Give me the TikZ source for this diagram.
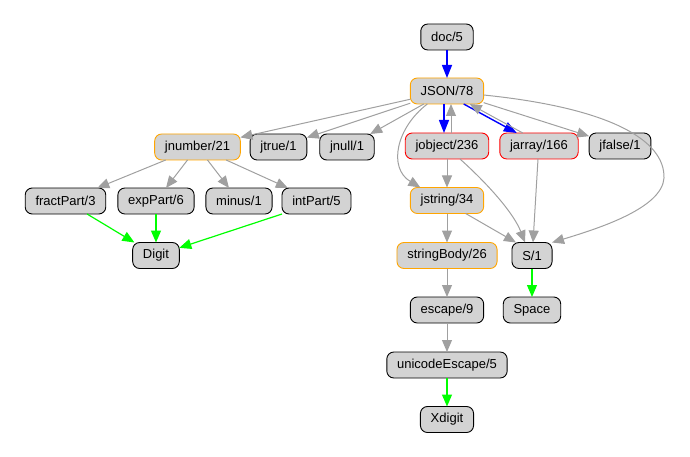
\documentclass[tikz,border=0pt]{standalone}
\usepackage{fontspec}
\setmainfont{Liberation Sans}
\usetikzlibrary{arrows.meta,calc}
\definecolor{nfill}{HTML}{D3D3D3}
\definecolor{egray}{HTML}{A0A0A0}
\definecolor{gorange}{HTML}{FFA500}
\definecolor{gblue}{HTML}{0000FF}
\definecolor{ggreen}{HTML}{00FF00}
\definecolor{gred}{HTML}{FF0000}
\begin{document}
\begin{tikzpicture}[x=1pt,y=-1pt,
  nd/.style={draw=black,fill=nfill,rounded corners=7pt,line width=0.9pt,
    minimum height=26pt,inner xsep=10.3pt,inner ysep=0pt,outer sep=0pt,
    font=\fontsize{13}{15}\selectfont},
  ornd/.style={nd,draw=gorange},
  rdnd/.style={nd,draw=gred},
  ge/.style={draw=egray,line width=1pt,-{Triangle[length=12pt,width=10pt]}},
  be/.style={draw=gblue,line width=1.4pt,-{Triangle[length=13pt,width=10pt]}},
  gre/.style={draw=ggreen,line width=1.2pt,-{Triangle[length=12pt,width=10pt]}}]
\useasboundingbox (0,0) rectangle (690,457);
\node[nd] (doc) at (447,37) {doc/5};
\node[ornd] (json) at (447,91) {JSON/78};
\node[ornd] (jnumber) at (197.5,147) {jnumber/21};
\node[nd] (jtrue) at (278.5,147) {jtrue/1};
\node[nd] (jnull) at (347,147) {jnull/1};
\node[rdnd] (jobject) at (447,146) {jobject/236};
\node[rdnd] (jarray) at (539,146) {jarray/166};
\node[nd] (jfalse) at (620,146) {jfalse/1};
\node[nd] (fract) at (65.5,201) {fractPart/3};
\node[nd] (exp) at (156,201) {expPart/6};
\node[nd] (minus) at (239,201) {minus/1};
\node[nd] (int) at (316.5,201) {intPart/5};
\node[nd] (digit) at (156,255.5) {Digit};
\node[ornd] (jstring) at (447,200.5) {jstring/34};
\node[nd] (s) at (532,255.5) {S/1};
\node[ornd] (body) at (447,255.5) {stringBody/26};
\node[nd] (space) at (532,310) {Space};
\node[nd] (escape) at (447,310) {escape/9};
\node[nd] (uni) at (447,365) {unicodeEscape/5};
\node[nd] (xdigit) at (447,419.5) {Xdigit};
% edges
\draw[be] (doc) -- (json);
\draw[be] ($(json.south)+(-3,0)$) -- ($(jobject.north)+(-3,0)$);
\draw[ge] ($(jobject.north)+(4,0)$) -- ($(json.south)+(4,0)$);
\draw[be] ($(json.south east)+(-20,0)$) -- ($(jarray.north west)+(17,0)$);
\draw[ge] ($(jarray.north west)+(23,0)$) -- ($(json.south east)+(-14,0)$);
\draw[ge] (json) -- (jnumber);
\draw[ge] (json) -- (jtrue);
\draw[ge] (json) -- (jnull);
\draw[ge] (json) -- (jfalse);
\draw[ge] ($(json.south west)+(17,0)$) .. controls (396,128) and (388,168) .. ($(jstring.north west)+(10,0)$);
\draw[ge] ($(json.east)+(0,4)$) .. controls (610,108) and (665,140) .. (664,178) .. controls (662,208) and (600,228) .. (s.north east);
\draw[ge] ($(jobject.south)+(13,0)$) .. controls (490,186) and (514,214) .. ($(s.north)+(-7,0)$);
\draw[ge] ($(jarray.south)+(-1,0)$) -- ($(s.north)+(1,0)$);
\draw[ge] ($(jstring.south east)+(-18,0)$) -- ($(s.north west)+(4,0)$);
\draw[ge] (jobject) -- (jstring);
\draw[ge] (jstring) -- (body);
\draw[ge] (body) -- (escape);
\draw[ge] (escape) -- (uni);
\draw[gre] (uni) -- (xdigit);
\draw[gre] (s) -- (space);
\draw[ge] (jnumber) -- (fract);
\draw[ge] (jnumber) -- (exp);
\draw[ge] (jnumber) -- (minus);
\draw[ge] (jnumber) -- (int);
\draw[gre] (fract) -- (digit);
\draw[gre] (exp) -- (digit);
\draw[gre] (int.south west) -- (digit);
\end{tikzpicture}
\end{document}
